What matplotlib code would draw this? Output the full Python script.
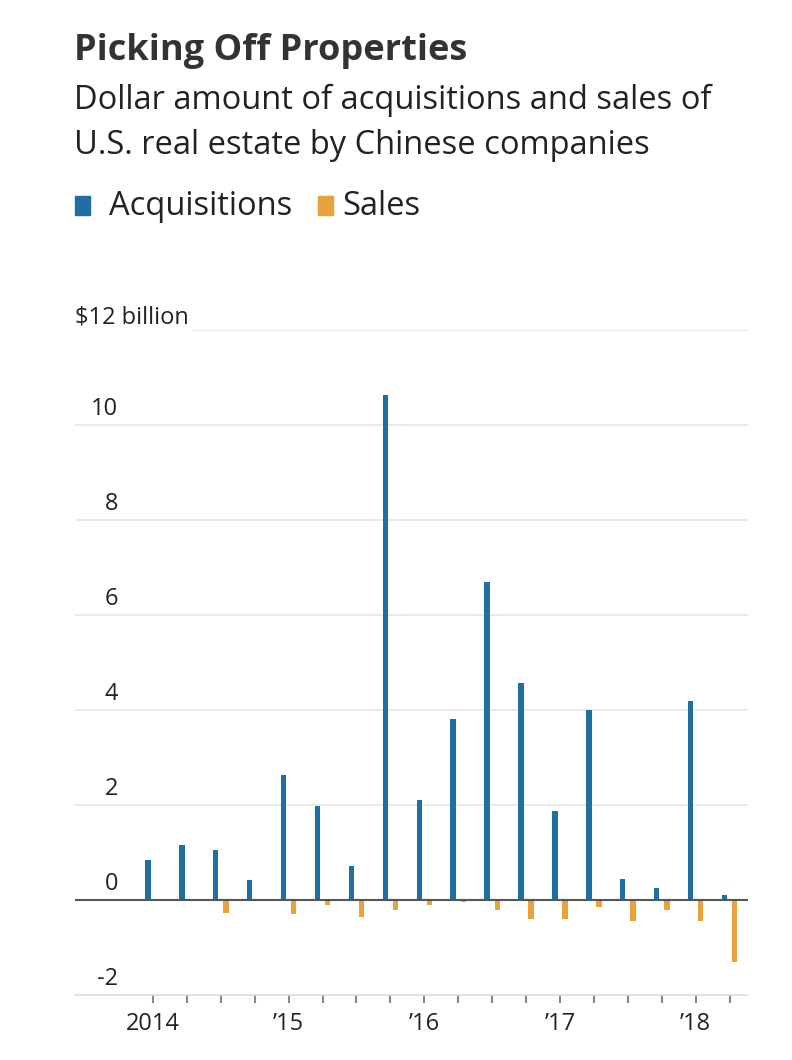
import matplotlib
matplotlib.use("Agg")
import matplotlib.pyplot as plt
from matplotlib.transforms import ScaledTranslation
import numpy as np

quarters = ["2014 Q1", "2014 Q2", "2014 Q3", "2014 Q4",
            "2015 Q1", "2015 Q2", "2015 Q3", "2015 Q4",
            "2016 Q1", "2016 Q2", "2016 Q3", "2016 Q4",
            "2017 Q1", "2017 Q2", "2017 Q3", "2017 Q4",
            "2018 Q1", "2018 Q2"]
acquisitions = [0.84, 1.16, 1.05, 0.42, 2.63, 1.98, 0.72, 10.63,
                2.10, 3.81, 6.69, 4.57, 1.87, 4.00, 0.44, 0.25, 4.19, 0.10]
sales = [0.0, 0.0, -0.28, -0.03, -0.30, -0.10, -0.35, -0.20,
         -0.10, -0.05, -0.20, -0.40, -0.40, -0.15, -0.45, -0.20, -0.44, -1.30]
year_labels = ["2014", "", "", "", "\u201915", "", "", "", "\u201916", "", "", "",
               "\u201917", "", "", "", "\u201918", ""]
y_ticks = [-2, 0, 2, 4, 6, 8, 10, 12]
y_labels = ["-2", "0", "2", "4", "6", "8", "10", ""]

BLUE = "#1f70a0"
ORANGE = "#e8a23a"
TEXT = "#222222"

plt.rcParams['font.family'] = ["Open Sans", "DejaVu Sans"]

fig = plt.figure(figsize=(7.92, 10.6), dpi=100)
fig.patch.set_facecolor("white")

fig.text(0.094, 0.952, "Picking Off Properties", fontsize=26, fontweight="bold",
         color="#333333", ha="left", va="center")
fig.text(0.094, 0.905, "Dollar amount of acquisitions and sales of", fontsize=23.5,
         color=TEXT, ha="left", va="center")
fig.text(0.094, 0.863, "U.S. real estate by Chinese companies", fontsize=23.5,
         color=TEXT, ha="left", va="center")
# legend
fig.patches.append(plt.Rectangle((0.095, 0.797), 0.019, 0.018, transform=fig.transFigure,
                                 color=BLUE))
fig.text(0.138, 0.805, "Acquisitions", fontsize=23.5, color=TEXT, ha="left", va="center")
fig.patches.append(plt.Rectangle((0.401, 0.797), 0.019, 0.018, transform=fig.transFigure,
                                 color=ORANGE))
fig.text(0.432, 0.805, "Sales", fontsize=23.5, color=TEXT, ha="left", va="center")

ax = fig.add_axes([0.0947, 0.0613, 0.850, 0.6274])
x = np.arange(len(quarters))
w = 0.16
ax.bar(x - 0.15, acquisitions, width=w, color=BLUE, zorder=3)
ax.bar(x + 0.15, sales, width=w, color=ORANGE, zorder=3)

ax.set_xlim(-2.3, 17.55)
ax.set_ylim(-2, 12)
ax.set_yticks(y_ticks)
ax.set_yticklabels(y_labels)
for yv in y_ticks[2:]:
    ax.axhline(yv, color="#e6e6e6", lw=1.2, zorder=1)
ax.axhline(0, color="#555555", lw=1.5, zorder=4)

ax.tick_params(axis="y", length=0, pad=-31, labelsize=17, labelcolor=TEXT)
for lab in ax.get_yticklabels():
    lab.set_horizontalalignment("right")
    lab.set_transform(lab.get_transform() + ScaledTranslation(0, 14 / 72, fig.dpi_scale_trans))

ax.set_xticks(x)
ax.set_xticklabels(year_labels)
ax.tick_params(axis="x", length=6, width=1.5, color="#888888", labelsize=17,
               labelcolor=TEXT, pad=6)

for s in ["top", "right", "left"]:
    ax.spines[s].set_visible(False)
ax.spines["bottom"].set_color("#dddddd")
ax.spines["bottom"].set_linewidth(1.2)

ax.text(0.0, 12, "$12 billion", fontsize=17, color=TEXT, ha="left", va="bottom",
        transform=ax.get_yaxis_transform(),
        bbox=dict(facecolor="white", edgecolor="none", pad=2))

fig.savefig("out.png", dpi=100, facecolor="white")
